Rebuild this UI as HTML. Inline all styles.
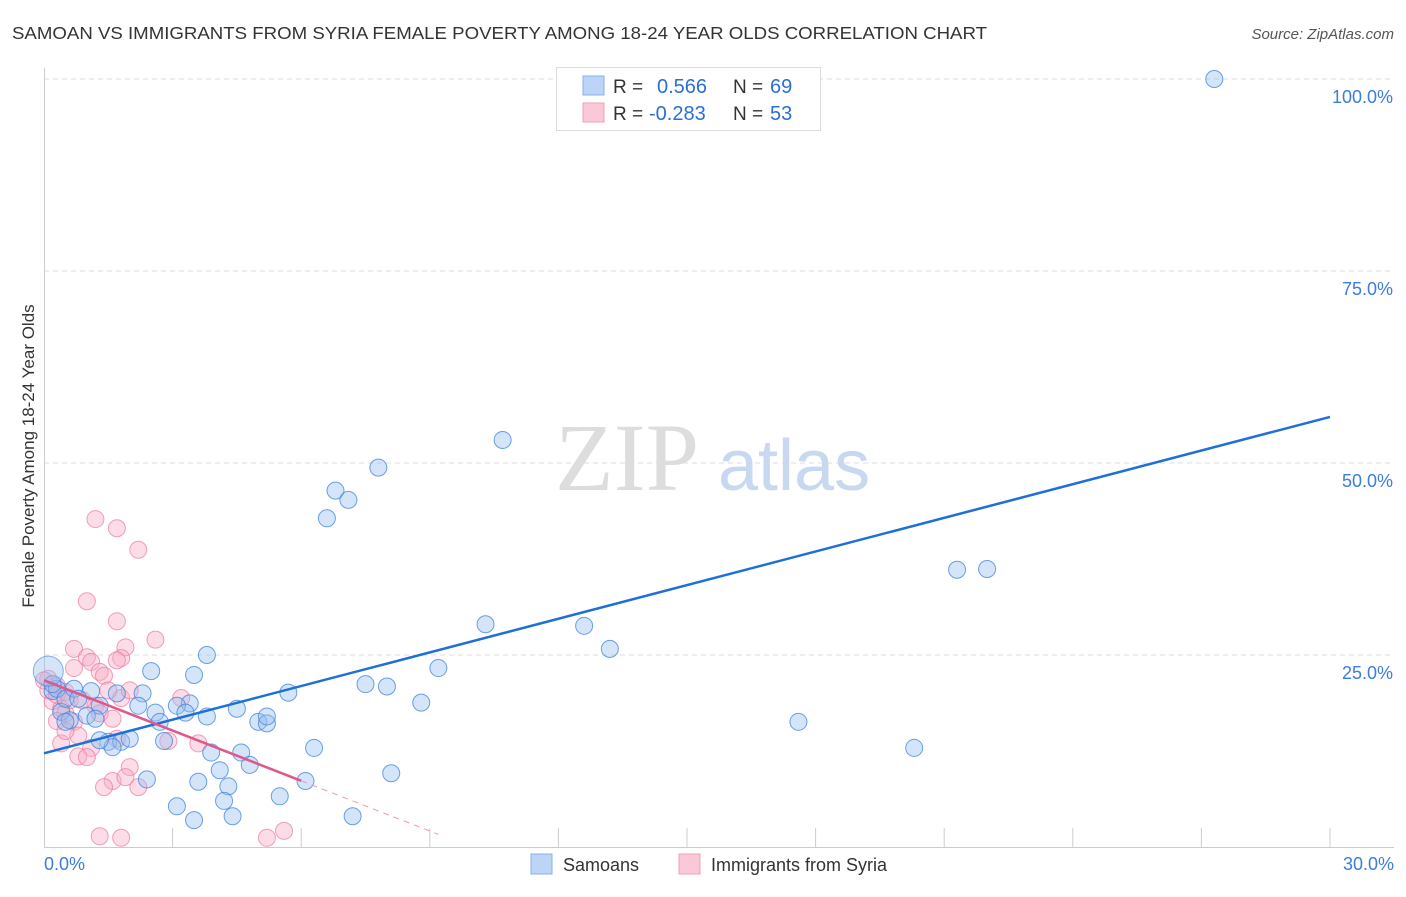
<!DOCTYPE html>
<html><head><meta charset="utf-8">
<style>
body{margin:0;background:#fff;font-family:"Liberation Sans",sans-serif;}
svg text{font-family:"Liberation Sans",sans-serif;}
</style></head>
<body>
<svg id="chart" width="1406" height="892" viewBox="0 0 1406 892" xmlns="http://www.w3.org/2000/svg">
<text x="12" y="39" font-size="17.5" fill="#333" textLength="975" lengthAdjust="spacingAndGlyphs">SAMOAN VS IMMIGRANTS FROM SYRIA FEMALE POVERTY AMONG 18-24 YEAR OLDS CORRELATION CHART</text>
<text x="1394" y="39" font-size="15" fill="#555" text-anchor="end" font-style="italic">Source: ZipAtlas.com</text>
<g id="grid"></g>
<text x="555" y="490" font-size="96" fill="#ddd" font-family="Liberation Serif" style="font-family:'Liberation Serif',serif">ZIP</text>
<text x="718" y="490" font-size="72" fill="#c8d8f0">atlas</text>
<g id="pts"></g>
<g id="lines"></g>
<text transform="translate(34,456) rotate(-90)" font-size="17" fill="#333" text-anchor="middle">Female Poverty Among 18-24 Year Olds</text>
<g>
<rect x="556.5" y="67.5" width="264" height="63" fill="#fff" stroke="#ddd"/>
<rect x="583" y="76" width="21" height="19" fill="#bcd4f6" stroke="#8ab0e8"/>
<rect x="583" y="103" width="21" height="19" fill="#fbc8d8" stroke="#f0a0b8"/>
<text x="613" y="93" font-size="19" fill="#333">R =</text>
<text x="657" y="93" font-size="20" fill="#2b6fd6">0.566</text>
<text x="733" y="93" font-size="19" fill="#333">N =</text>
<text x="770" y="93" font-size="20" fill="#2b6fd6">69</text>
<text x="613" y="120" font-size="19" fill="#333">R =</text>
<text x="649" y="120" font-size="20" fill="#2b6fd6">-0.283</text>
<text x="733" y="120" font-size="19" fill="#333">N =</text>
<text x="770" y="120" font-size="20" fill="#2b6fd6">53</text>
</g>
<g>
<rect x="531" y="854" width="21" height="20" fill="#bcd4f6" stroke="#8ab0e8"/>
<text x="563" y="871" font-size="18" fill="#333">Samoans</text>
<rect x="679" y="854" width="21" height="20" fill="#fbc8d8" stroke="#f0a0b8"/>
<text x="711" y="871" font-size="18" fill="#333">Immigrants from Syria</text>
</g>
<text x="44" y="870" font-size="18" fill="#3b7ddd">0.0%</text>
<text x="1394" y="870" font-size="18" fill="#3b7ddd" text-anchor="end">30.0%</text>
</svg>
<script>
const yTicks=[25,50,75,100];
const xTicks=[3,6,9,12,15,18,21,24,27,30];
const samoanX=[27.3,10.7,7.8,6.8,7.1,6.6,21.3,22.0,10.3,12.6,13.2,3.8,9.2,2.5,3.5,7.5,8.0,5.7,2.3,1.7,1.1,8.8,3.4,3.1,2.2,2.6,3.3,17.6,3.8,4.5,5.0,5.2,5.2,1.3,0.4,0.6,1.0,1.5,1.8,2.0,1.6,2.8,6.3,20.3,3.9,4.6,4.8,4.1,2.4,3.6,4.3,8.1,6.1,4.2,5.5,3.1,3.5,4.4,7.2,0.5,0.2,0.3,0.5,0.7,0.8,1.2,0.2,1.3,2.7];
const samoanY=[100,53.0,49.4,46.4,45.2,42.8,36.1,36.2,29.0,28.8,25.8,25.0,23.3,22.9,22.4,21.2,20.9,20.1,20.0,20.0,20.3,18.8,18.7,18.4,18.4,17.5,17.5,16.3,17.0,18.0,16.3,16.1,17.0,18.4,17.6,16.5,17.1,13.7,13.7,14.1,13.0,13.8,12.9,12.9,12.3,12.3,10.7,10.0,8.8,8.5,7.9,9.6,8.6,6.0,6.6,5.3,3.5,4.0,4.0,16.3,20.3,20.6,19.3,20.6,19.3,16.7,21.2,13.9,16.3];
const syriaX=[1.2,1.7,2.2,1.0,1.7,0.7,1.9,2.6,1.0,1.1,1.8,1.7,0.7,1.3,1.4,3.2,1.8,0.5,1.2,0.3,0.1,0.2,0.4,0.5,1.3,1.6,0.7,0.4,1.1,1.7,2.9,3.6,0.8,1.0,1.6,1.4,2.0,2.2,1.9,1.3,1.8,5.2,5.6,0.0,0.1,0.3,0.6,0.3,0.8,0.9,0.5,1.5,2.0];
const syriaY=[42.7,41.5,38.7,32.0,29.4,25.8,26.0,27.0,24.7,24.1,24.6,24.3,23.3,22.8,22.3,19.4,19.4,20.2,18.4,21.0,21.9,19.0,18.0,17.4,17.4,16.7,16.3,13.5,12.9,14.1,13.8,13.5,11.8,11.7,8.6,7.8,10.4,7.8,9.1,1.4,1.2,1.2,2.1,21.7,20.4,19.8,19.1,16.4,14.5,19.1,15.1,20.4,20.4];
const samoanTrend=[12.2,56.0];
const syriaTrend=[21.7,-2.18];
const X=v=>44+v*(1286/30);
const Y=v=>847-v*7.68;
const NS='http://www.w3.org/2000/svg';
function mk(tag,attrs,parent){const e=document.createElementNS(NS,tag);for(const k in attrs)e.setAttribute(k,attrs[k]);parent.appendChild(e);return e;}
const grid=document.getElementById('grid');
yTicks.forEach(t=>{
 const l=mk('line',{x1:44,x2:1394,y1:Y(t),y2:Y(t),stroke:'#ddd','stroke-dasharray':'5,4'},grid);
 
 
 const tx=mk('text',{x:1393,y:Y(t)+24,'font-size':18,fill:'#3b7ddd','text-anchor':'end'},grid);
 tx.textContent=t.toFixed(1)+'%';
 
 
});
const ax=mk('line',{x1:44,x2:1394,y1:847.5,y2:847.5,stroke:'#ccc'},grid);


const ay=mk('line',{x1:44.5,x2:44.5,y1:68,y2:847,stroke:'#ccc'},grid);


xTicks.forEach(t=>{
 const l=mk('line',{x1:X(t),x2:X(t),y1:828,y2:847,stroke:'#ccc'},grid);
 
 
});
const pts=document.getElementById('pts');
syriaX.forEach((v,i)=>{
 const c=mk('circle',{cx:X(v),cy:Y(syriaY[i]),r:8.5,fill:'rgba(248,170,195,0.4)',stroke:'rgba(236,120,160,0.7)','stroke-width':1},pts);
 
 
});
samoanX.forEach((v,i)=>{
 const c=mk('circle',{cx:X(v),cy:Y(samoanY[i]),r:8.5,fill:'rgba(150,190,240,0.4)',stroke:'rgba(60,130,220,0.75)','stroke-width':1},pts);
 
 
});
const big=mk('circle',{cx:X(0.1),cy:Y(22.9),r:15,fill:'rgba(150,190,240,0.4)',stroke:'rgba(60,130,220,0.6)'},pts);


const lines=document.getElementById('lines');
const bl=mk('line',{x1:X(0),y1:Y(samoanTrend[0]),x2:X(30),y2:Y(samoanTrend[1]),stroke:'#1f6fd8','stroke-width':2.5},lines);


const pe=6;
const pl=mk('line',{x1:X(0),y1:Y(syriaTrend[0]),x2:X(pe),y2:Y(syriaTrend[0]+syriaTrend[1]*pe),stroke:'#e0588a','stroke-width':2.5},lines);


const xe=9.2;
const pd=mk('line',{x1:X(pe),y1:Y(syriaTrend[0]+syriaTrend[1]*pe),x2:X(xe),y2:Y(syriaTrend[0]+syriaTrend[1]*xe),stroke:'#e89ab5','stroke-width':1,'stroke-dasharray':'6,5'},lines);


</script>
</body></html>
